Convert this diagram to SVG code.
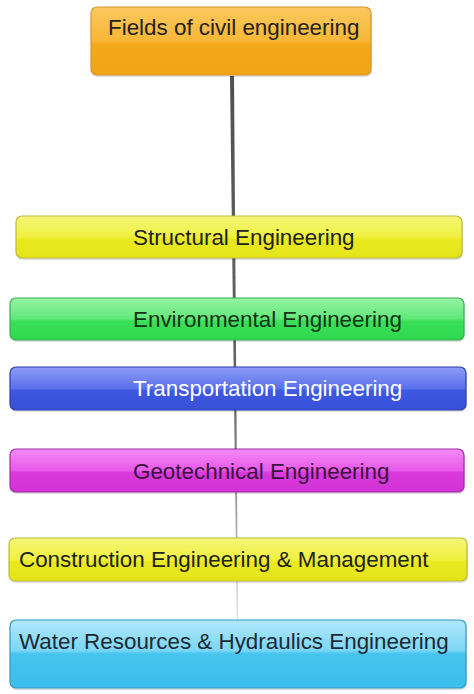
<svg xmlns="http://www.w3.org/2000/svg" width="474" height="694" viewBox="0 0 474 694">
<defs>
<linearGradient id="gOrange" x1="0" y1="0" x2="0" y2="1"><stop offset="0" stop-color="#fbc95e"/><stop offset="0.5" stop-color="#f7b636"/><stop offset="0.55" stop-color="#f3a818"/><stop offset="1" stop-color="#f2a414"/></linearGradient>
<linearGradient id="gYellow" x1="0" y1="0" x2="0" y2="1"><stop offset="0" stop-color="#f6f67a"/><stop offset="0.5" stop-color="#f0f040"/><stop offset="0.55" stop-color="#e9e922"/><stop offset="1" stop-color="#e4e418"/></linearGradient>
<linearGradient id="gGreen" x1="0" y1="0" x2="0" y2="1"><stop offset="0" stop-color="#98f3a4"/><stop offset="0.5" stop-color="#5fe878"/><stop offset="0.55" stop-color="#3adf58"/><stop offset="1" stop-color="#2ed84e"/></linearGradient>
<linearGradient id="gBlue" x1="0" y1="0" x2="0" y2="1"><stop offset="0" stop-color="#8d9cf7"/><stop offset="0.5" stop-color="#5a70ea"/><stop offset="0.55" stop-color="#3f58e0"/><stop offset="1" stop-color="#3850d8"/></linearGradient>
<linearGradient id="gMagenta" x1="0" y1="0" x2="0" y2="1"><stop offset="0" stop-color="#f58af5"/><stop offset="0.5" stop-color="#e758e9"/><stop offset="0.55" stop-color="#d93adc"/><stop offset="1" stop-color="#d232d5"/></linearGradient>
<linearGradient id="gCyan" x1="0" y1="0" x2="0" y2="1"><stop offset="0" stop-color="#b2e8fa"/><stop offset="0.45" stop-color="#7ad6f5"/><stop offset="0.5" stop-color="#45c4ef"/><stop offset="1" stop-color="#3bbfec"/></linearGradient>
<linearGradient id="gLine" gradientUnits="userSpaceOnUse" x1="0" y1="76" x2="0" y2="620"><stop offset="0" stop-color="#505050"/><stop offset="0.6" stop-color="#666666"/><stop offset="0.8" stop-color="#a0a0a0"/><stop offset="1" stop-color="#e0e0e0"/></linearGradient>
</defs>
<style>
.box{stroke-width:1.2}
.shadow{fill:#000;opacity:0.12}
.lbl{font-family:"Liberation Sans",Arial,sans-serif;font-size:22.4px}
.dark{fill:#222}
</style>
<g id="connectors">
<polygon points="230,76 234,76 238,620 236.8,620" fill="url(#gLine)"/>
</g>
<g id="n-fields">
<rect class="shadow" x="92" y="9" width="280" height="68" rx="6"/>
<rect class="box" x="91" y="7" width="280" height="68" rx="6" fill="url(#gOrange)" stroke="#d6962c"/>
<text class="lbl dark" x="108" y="35">Fields of civil engineering</text>
</g>
<g id="n-structural">
<rect class="shadow" x="17" y="218" width="446" height="42" rx="6"/>
<rect class="box" x="16" y="216" width="446" height="42" rx="6" fill="url(#gYellow)" stroke="#bdbb3a"/>
<text class="lbl dark" x="133" y="245">Structural Engineering</text>
</g>
<g id="n-environmental">
<rect class="shadow" x="11" y="300" width="454" height="42" rx="6"/>
<rect class="box" x="10" y="298" width="454" height="42" rx="6" fill="url(#gGreen)" stroke="#3aae52"/>
<text class="lbl" fill="#173217" x="133" y="327">Environmental Engineering</text>
</g>
<g id="n-transportation">
<rect class="shadow" x="11" y="369" width="456" height="43" rx="6"/>
<rect class="box" x="10" y="367" width="456" height="43" rx="6" fill="url(#gBlue)" stroke="#2a3ca8"/>
<text class="lbl" fill="#ffffff" x="133" y="396">Transportation Engineering</text>
</g>
<g id="n-geotechnical">
<rect class="shadow" x="11" y="451" width="454" height="43" rx="6"/>
<rect class="box" x="10" y="449" width="454" height="43" rx="6" fill="url(#gMagenta)" stroke="#a42aa6"/>
<text class="lbl" fill="#3a143a" x="133" y="479">Geotechnical Engineering</text>
</g>
<g id="n-construction">
<rect class="shadow" x="10" y="540" width="458" height="43" rx="6"/>
<rect class="box" x="9" y="538" width="458" height="43" rx="6" fill="url(#gYellow)" stroke="#bdbb3a"/>
<text class="lbl dark" x="19" y="567">Construction Engineering &amp; Management</text>
</g>
<g id="n-water">
<rect class="shadow" x="11" y="622" width="456" height="68" rx="6"/>
<rect class="box" x="10" y="620" width="456" height="68" rx="6" fill="url(#gCyan)" stroke="#2e98c2"/>
<text class="lbl" fill="#1c2a33" x="19" y="649">Water Resources &amp; Hydraulics Engineering</text>
</g>
</svg>
